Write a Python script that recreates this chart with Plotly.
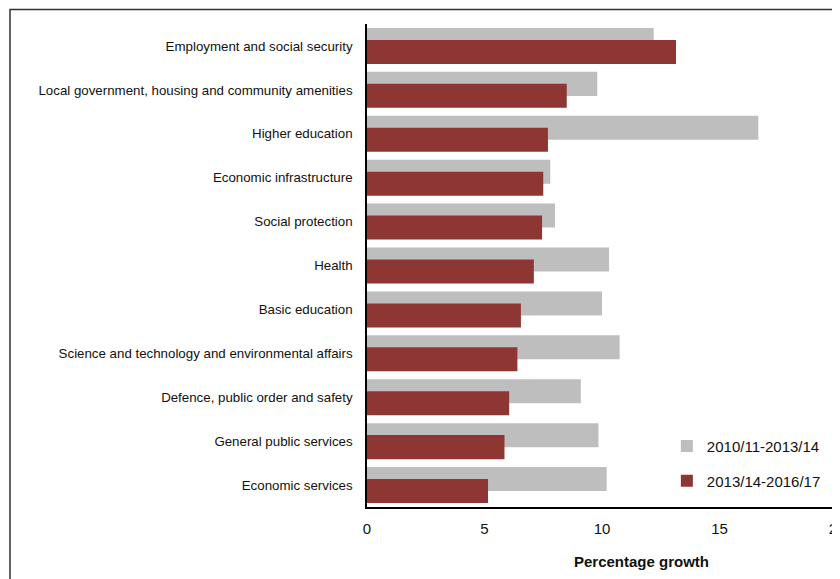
import plotly.graph_objects as go

categories = [
    "Employment and social security",
    "Local government, housing and community amenities",
    "Higher education",
    "Economic infrastructure",
    "Social protection",
    "Health",
    "Basic education",
    "Science and technology and environmental affairs",
    "Defence, public order and safety",
    "General public services",
    "Economic services",
]
growth_2010_2013 = [12.2, 9.8, 16.65, 7.8, 8.0, 10.3, 10.0, 10.75, 9.1, 9.85, 10.2]
growth_2013_2016 = [13.15, 8.5, 7.7, 7.5, 7.45, 7.1, 6.55, 6.4, 6.05, 5.85, 5.15]

series_names = ["2010/11-2013/14", "2013/14-2016/17"]
colors = ["#BEBEBE", "#8E3634"]
x_title = "Percentage growth"

FONT = "Liberation Sans, Arial, sans-serif"

fig = go.Figure()
fig.add_trace(go.Bar(
    y=categories, x=growth_2010_2013, orientation="h", name=series_names[0],
    marker=dict(color=colors[0], line=dict(width=0)),
    width=0.547, offset=-0.41, legend="legend",
))
fig.add_trace(go.Bar(
    y=categories, x=growth_2013_2016, orientation="h", name=series_names[1],
    marker=dict(color=colors[1], line=dict(width=0)),
    width=0.547, offset=-0.137, legend="legend2",
))

fig.update_layout(
    width=832, height=571,
    margin=dict(l=359, r=3, t=16, b=72, autoexpand=False),
    paper_bgcolor="white", plot_bgcolor="white",
    barmode="overlay",
    font=dict(family=FONT, size=15, color="#111111"),
    showlegend=True,
    legend=dict(x=0.638, y=0.126, xanchor="left", yanchor="middle",
                bgcolor="rgba(0,0,0,0)", font=dict(size=15, family=FONT)),
    legend2=dict(x=0.638, y=0.054, xanchor="left", yanchor="middle",
                 bgcolor="rgba(0,0,0,0)", font=dict(size=15, family=FONT)),
    xaxis=dict(
        range=[0, 20], tickvals=[0, 5, 10, 15, 20],
        showline=True, linecolor="black", linewidth=1.5,
        showgrid=False, zeroline=False, ticks="",
        tickfont=dict(size=15, family=FONT),
        ticklabelstandoff=7,
        ticklabeloverflow="allow",
        automargin=False,
    ),
    yaxis=dict(
        autorange="reversed", type="category",
        showline=True, linecolor="black", linewidth=1.5,
        showgrid=False, zeroline=False, ticks="",
        tickfont=dict(size=13.3, family=FONT),
        ticklabelstandoff=10,
        automargin=False,
    ),
    annotations=[dict(
        text="<b>" + x_title + "</b>", xref="paper", yref="paper",
        x=(641.5 - 367) / 470, y=(507 - 561) / 483,
        xanchor="center", yanchor="middle", showarrow=False,
        font=dict(size=15, family=FONT, color="#111111"),
    )],
    shapes=[dict(
        type="rect", xref="paper", yref="paper",
        x0=(10 - 367) / 470, x1=1.2, y0=-0.3, y1=(507 - 9.5) / 483,
        line=dict(color="#333333", width=1.5), fillcolor="rgba(0,0,0,0)",
        layer="below",
    )],
)

fig.write_html("out.html")
